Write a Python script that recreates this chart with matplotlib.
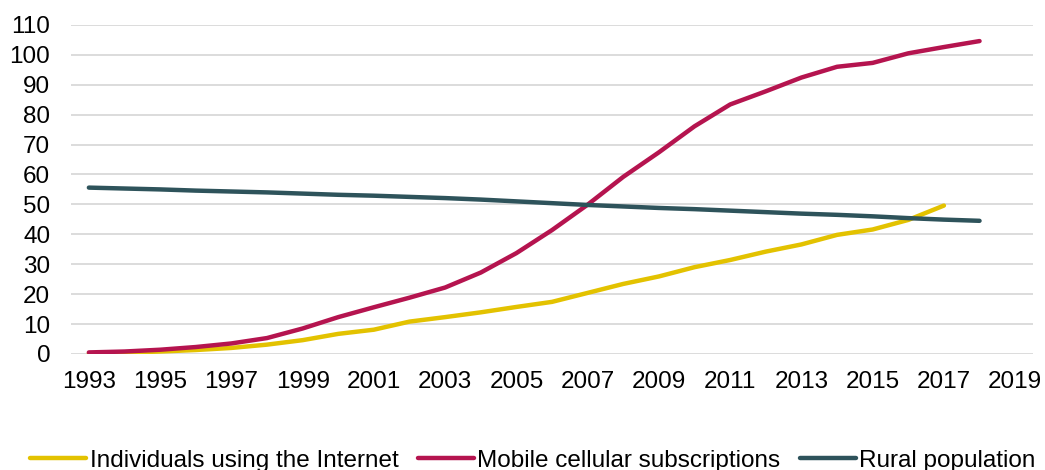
import numpy as np
import matplotlib
matplotlib.use("Agg")
import matplotlib.pyplot as plt

plt.rcParams['font.family'] = ['Liberation Sans', 'DejaVu Sans']

years = list(range(1993, 2019))
internet = [0.2, 0.4, 0.8, 1.3, 2.0, 3.1, 4.6, 6.7, 8.1, 10.8, 12.3, 13.9, 15.7, 17.4,
            20.4, 23.4, 25.9, 29.0, 31.4, 34.2, 36.6, 39.8, 41.6, 44.8, 49.6]
mobile = [0.5, 0.8, 1.4, 2.3, 3.5, 5.3, 8.5, 12.3, 15.6, 18.8, 22.2, 27.2, 33.7, 41.4,
          49.9, 59.2, 67.4, 76.1, 83.4, 87.8, 92.4, 96.0, 97.3, 100.5, 102.6, 104.6]
rural = [55.6, 55.3, 55.0, 54.6, 54.3, 54.0, 53.6, 53.2, 52.9, 52.5, 52.1, 51.6, 51.0, 50.4,
         49.8, 49.3, 48.8, 48.4, 47.9, 47.4, 46.9, 46.5, 46.0, 45.4, 44.9, 44.5]
names = ['Individuals using the Internet', 'Mobile cellular subscriptions', 'Rural population']
colors = ['#E3C200', '#B5144F', '#2E535B']

fig = plt.figure(figsize=(10.45, 4.7), dpi=100)
ax = fig.add_axes([0.068, 0.247, 0.9205, 0.7])

for vals, name, c in zip([internet, mobile, rural], names, colors):
    ax.plot(years[:len(vals)], vals, color=c, lw=3.2, label=name,
            solid_capstyle='round', solid_joinstyle='round')

ax.set_xlim(1992.5, 2019.5)
ax.set_ylim(0, 110)
ax.set_yticks(np.arange(0, 111, 10))
ax.set_xticks(range(1993, 2020, 2))
ax.grid(axis='y', color='#d9d9d9', lw=1.3)
ax.set_axisbelow(True)
for s in ax.spines.values():
    s.set_visible(False)
ax.tick_params(length=0, labelsize=17.5, colors='black')
ax.tick_params(axis='x', pad=12)
ax.tick_params(axis='y', pad=15)

fig.legend(loc='lower center', bbox_to_anchor=(0.51, -0.05), ncol=3, frameon=False,
           fontsize=17.5, handlelength=2.3, handletextpad=0.15, columnspacing=0.8)

fig.savefig('out.png', dpi=100)
